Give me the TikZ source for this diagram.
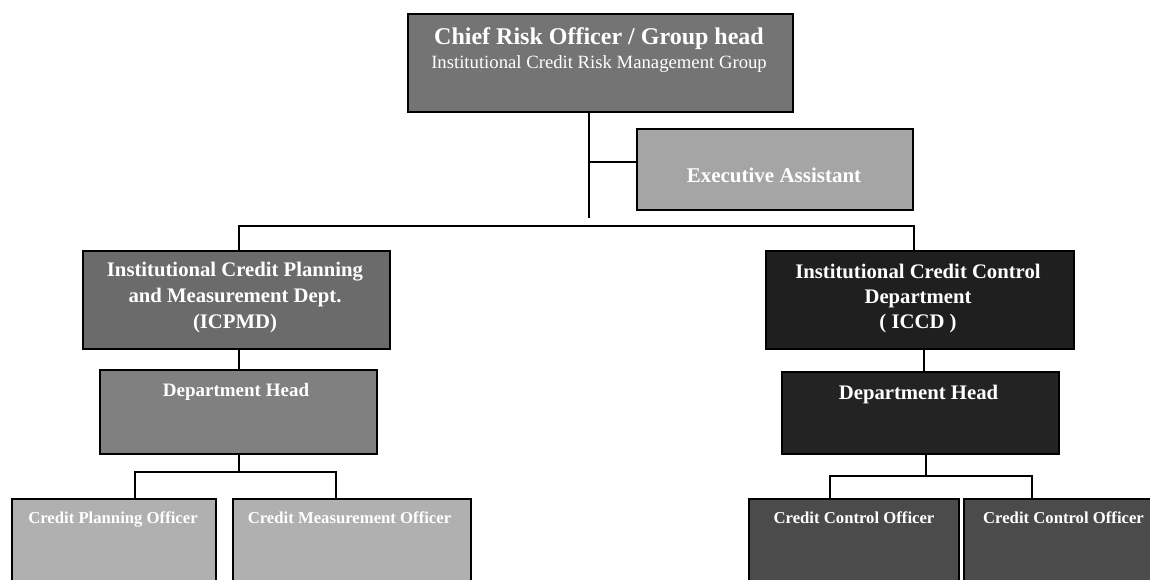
\documentclass[tikz,border=0pt]{standalone}
\usepackage{fontspec}
\setmainfont{Liberation Serif}
\definecolor{chieffill}{HTML}{747474}
\definecolor{execfill}{HTML}{A5A5A5}
\definecolor{planfill}{HTML}{6B6B6B}
\definecolor{planhead}{HTML}{808080}
\definecolor{planoff}{HTML}{B0B0B0}
\definecolor{ctrlfill}{HTML}{1F1F1F}
\definecolor{ctrlhead}{HTML}{232323}
\definecolor{ctrloff}{HTML}{4B4B4B}
\begin{document}
\begin{tikzpicture}[x=1pt,y=-1pt,
  box/.style={draw=black, line width=1.5pt, rectangle, inner sep=0pt, anchor=north west},
  lbl/.style={text=white, inner sep=0pt, anchor=base},
  link/.style={draw=black, line width=1.4pt},
  fz/.style={font=\fontsize{#1}{#1}\selectfont\bfseries}]
\useasboundingbox (0,0) rectangle (1150,579);
\clip (0,0) rectangle (1150,579);
\fill[white] (0,0) rectangle (1150,579);

% boxes
\node[box, fill=chieffill, minimum width=385pt, minimum height=98pt] (chief) at (407,13) {};
\node[box, fill=execfill, minimum width=276pt, minimum height=81pt] (exec) at (636,128) {};
\node[box, fill=planfill, minimum width=307pt, minimum height=98pt] (icpmd) at (82,250) {};
\node[box, fill=planhead, minimum width=277pt, minimum height=84pt] (dhl) at (99,369) {};
\node[box, fill=planoff, minimum width=204pt, minimum height=100pt] (cpo) at (11,498) {};
\node[box, fill=planoff, minimum width=238pt, minimum height=100pt] (cmo) at (232,498) {};
\node[box, fill=ctrlfill, minimum width=308pt, minimum height=98pt] (iccd) at (765,250) {};
\node[box, fill=ctrlhead, minimum width=277pt, minimum height=82pt] (dhr) at (781,371) {};
\node[box, fill=ctrloff, minimum width=210pt, minimum height=100pt] (cco1) at (748,498) {};
\node[box, fill=ctrloff, minimum width=200pt, minimum height=100pt] (cco2) at (963,498) {};

% labels
\node[lbl, fz=24] (tchief) at (599,44) {Chief Risk Officer / Group head};
\node[lbl, font=\fontsize{18.7}{18.7}\selectfont] (tgroup) at (599,68) {Institutional Credit Risk Management Group};
\node[lbl, fz=21] (texec) at (774,182) {Executive Assistant};
\node[lbl, fz=20.7] (tp1) at (235,276) {Institutional Credit Planning};
\node[lbl, fz=20.7] (tp2) at (235,302) {and Measurement Dept.};
\node[lbl, fz=20.7] (tp3) at (235,328) {(ICPMD)};
\node[lbl, fz=19] (tdhl) at (236,396) {Department Head};
\node[lbl, fz=16.7] (tcpo) at (113,523) {Credit Planning Officer};
\node[lbl, fz=16.7] (tcmo) at (349.5,523) {Credit Measurement Officer};
\node[lbl, fz=20.7] (tc1) at (918,278) {Institutional Credit Control};
\node[lbl, fz=20.7] (tc2) at (918,303) {Department};
\node[lbl, fz=20.7] (tc3) at (918,328) {( ICCD )};
\node[lbl, fz=20.7] (tdhr) at (918.5,399) {Department Head};
\node[lbl, fz=16.7] (tcco1) at (854,523) {Credit Control Officer};
\node[lbl, fz=16.7] (tcco2) at (1063.5,523) {Credit Control Officer};

% junction points of the connectors
\coordinate (trunk) at (589,218);
\coordinate (asst) at (589,162);
\coordinate (busL) at (239,226);
\coordinate (busR) at (914,226);
\coordinate (lsplit) at (239,472);
\coordinate (lbrA) at (135,472);
\coordinate (lbrB) at (336,472);
\coordinate (rsplit) at (926,476);
\coordinate (rbrA) at (830,476);
\coordinate (rbrB) at (1032,476);
\coordinate (iccddown) at (924,0);

% connectors
\draw[link] (chief.south -| trunk) -- (trunk);
\draw[link] (asst) -- (exec.west |- asst);
\draw[link] (icpmd.north -| busL) -- (busL) -- (busR) -- (iccd.north -| busR);
\draw[link] (icpmd.south -| busL) -- (dhl.north -| busL);
\draw[link] (dhl.south -| lsplit) -- (lsplit);
\draw[link] (cpo.north -| lbrA) -- (lbrA) -- (lbrB) -- (cmo.north -| lbrB);
\draw[link] (iccd.south -| iccddown) -- (dhr.north -| iccddown);
\draw[link] (dhr.south -| rsplit) -- (rsplit);
\draw[link] (cco1.north -| rbrA) -- (rbrA) -- (rbrB) -- (cco2.north -| rbrB);
\end{tikzpicture}
\end{document}
